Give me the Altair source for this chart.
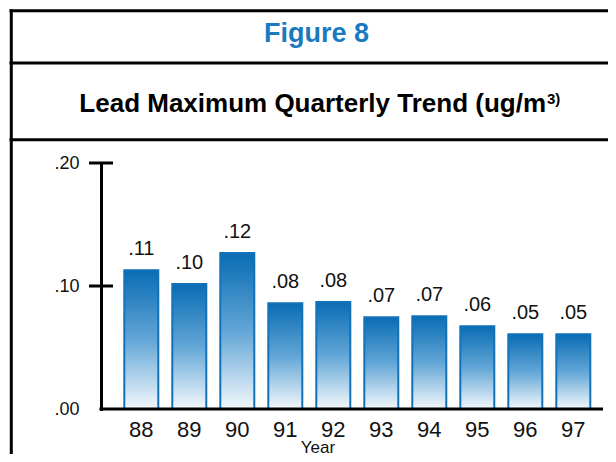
import altair as alt
import pandas as pd

# ---- data ----
years = ["88", "89", "90", "91", "92", "93", "94", "95", "96", "97"]
values = [0.1128, 0.1016, 0.1268, 0.0859, 0.0870, 0.0746, 0.0754, 0.0672, 0.0607, 0.0607]
value_labels = [".11", ".10", ".12", ".08", ".08", ".07", ".07", ".06", ".05", ".05"]
y_axis_values = [0.0, 0.1, 0.2]
y_tick_marks = [0.1, 0.2]
baseline_value = [0.0]

figure_label = "Figure 8"
title_main = "Lead Maximum Quarterly Trend (ug/m"
title_sup = "3)"
x_title = "Year"

FONT = "Liberation Sans"

df = pd.DataFrame({"year": years, "value": values, "label": value_labels})

x_scale = alt.Scale(range=[16.3, 496.3], paddingInner=0.2917, paddingOuter=0.1458)
y_scale = alt.Scale(domain=[0, 0.2], nice=False)

x_enc = alt.X(
    "year:N", sort=years, scale=x_scale, title=None,
    axis=alt.Axis(
        title=None,
        labelAngle=0, labelFont=FONT, labelFontSize=22, labelColor="#111111",
        labelPadding=10, ticks=False, domain=False, grid=False,
    ),
)
y_enc = alt.Y(
    "value:Q", scale=y_scale, title=None,
    axis=alt.Axis(
        values=y_axis_values,
        labelExpr="replace(format(datum.value, '.2f'), '0.', '.')",
        ticks=False, domainWidth=3, domainColor="black", domainCap="square",
        labelPadding=22, labelFont=FONT, labelFontSize=18, labelColor="#111111",
        grid=False, title=None,
    ),
)

gradient = alt.Gradient(
    gradient="linear",
    stops=[
        alt.GradientStop(color="#0a6cb4", offset=0),
        alt.GradientStop(color="#62a6d6", offset=0.5),
        alt.GradientStop(color="#f3f8fc", offset=1),
    ],
    x1=0, x2=0, y1=0, y2=1,
)

bars = alt.Chart(df).mark_bar(fill=gradient, stroke="#1272b9", strokeWidth=2).encode(
    x=x_enc, y=y_enc
)

labels = alt.Chart(df).mark_text(
    dy=-15, baseline="alphabetic", align="center", font=FONT, fontSize=20, color="#111111"
).encode(
    x=alt.X("year:N", sort=years, scale=x_scale, title=None),
    y=alt.Y("value:Q", scale=y_scale, title=None),
    text="label:N",
)

ticks = alt.Chart(pd.DataFrame({"t": y_tick_marks})).mark_rule(
    color="black", strokeWidth=3
).encode(
    y=alt.Y("t:Q", scale=y_scale, title=None),
    x=alt.value(-12), x2=alt.value(12),
)

baseline = alt.Chart(pd.DataFrame({"b": baseline_value})).mark_rule(
    color="black", strokeWidth=3
).encode(
    y=alt.Y("b:Q", scale=y_scale, title=None),
    x=alt.value(-1.5), x2=alt.value(502),
)

one = pd.DataFrame({"k": [0]})


def hline(yv):
    return alt.Chart(one).mark_rule(color="black", strokeWidth=3).encode(
        x=alt.value(-91.5), x2=alt.value(510), y=alt.value(yv)
    )


frame_left = alt.Chart(one).mark_rule(color="black", strokeWidth=3).encode(
    x=alt.value(-89.7), y=alt.value(-153.8), y2=alt.value(300)
)
frame_lines = [hline(-152.3), hline(-100.0), hline(-23.3)]

fig_text = alt.Chart(pd.DataFrame({"t": [figure_label]})).mark_text(
    font=FONT, fontSize=27, fontWeight="bold", color="#1a7abf",
    align="center", baseline="alphabetic",
).encode(text="t:N", x=alt.value(215.5), y=alt.value(-121))

title_text = alt.Chart(pd.DataFrame({"t": [title_main]})).mark_text(
    font=FONT, fontSize=26, fontWeight="bold", color="#000000",
    align="right", baseline="alphabetic",
).encode(text="t:N", x=alt.value(445), y=alt.value(-51.3))

sup_text = alt.Chart(pd.DataFrame({"t": [title_sup]})).mark_text(
    font=FONT, fontSize=15, fontWeight="bold", color="#000000",
    align="left", baseline="alphabetic",
).encode(text="t:N", x=alt.value(446), y=alt.value(-59))

year_text = alt.Chart(pd.DataFrame({"t": [x_title]})).mark_text(
    font=FONT, fontSize=17, color="#111111", align="center", baseline="alphabetic",
).encode(text="t:N", x=alt.value(217), y=alt.value(290))

chart = alt.layer(
    bars, labels, ticks, baseline, frame_left, *frame_lines,
    fig_text, title_text, sup_text, year_text,
).properties(
    width=502, height=246,
    padding={"left": 93, "top": 155, "right": 5, "bottom": 45},
    autosize=alt.AutoSizeParams(type="none"),
    background="white",
).configure_view(stroke=None)

chart.save("out.html", embed_options={"renderer": "svg", "actions": False})
